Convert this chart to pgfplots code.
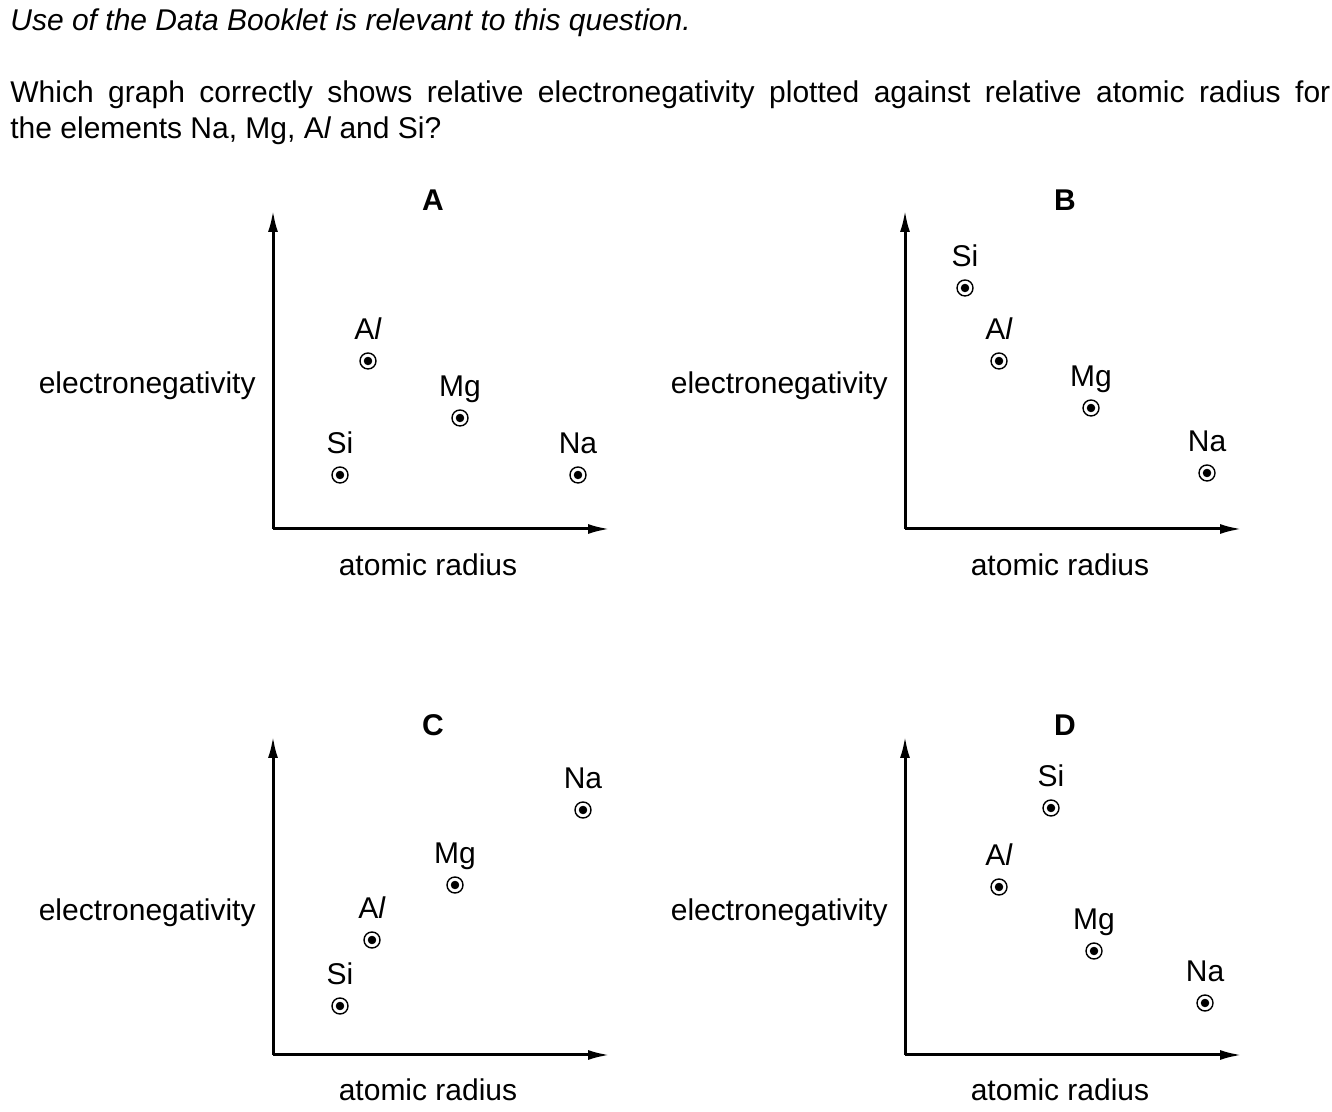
\documentclass[border=0pt]{standalone}
\usepackage{pgfplots}
\pgfplotsset{compat=1.18}
\usetikzlibrary{arrows.meta}
\usepackage{fontspec}
\setmainfont{Liberation Sans}
\newcommand\fs{\fontsize{15}{18}\selectfont}
\pgfplotsset{panel/.style={scale only axis,width=168.5pt,height=159.5pt,
  xmin=0,xmax=337,ymin=0,ymax=319,axis x line=bottom,axis y line=left,ticks=none,
  axis line style={line width=1.5pt,-{Latex[length=11pt,width=5pt]}},clip=false,anchor=origin},
  pts/.style={only marks,mark=o,mark size=4pt,line width=0.7pt,black,
  nodes near coords,point meta=explicit symbolic,
  nodes near coords style={anchor=base,yshift=10.5pt,inner sep=0pt,font=\fs,text=black}},
  dots/.style={only marks,mark=*,mark size=1.9pt,black}}
\begin{document}
\begin{tikzpicture}[x=1pt,y=1pt]
\useasboundingbox (0,0) rectangle (666,556);
\node[anchor=north west,inner sep=0pt,text width=660pt,align=justify,font=\fs] at (5,552)
 {\textit{Use of the Data Booklet is relevant to this question.}\par\vspace{18pt}
 Which graph correctly shows relative electronegativity plotted against relative atomic radius for\linebreak the elements Na, Mg, A\textit{l} and Si?\par};
\begin{axis}[panel,at={(136.5pt,291.5pt)}]
\addplot[pts] coordinates {(95,168)[{A\textit{l}}] (187,111)[Mg] (67,54)[Si] (305,54)[Na]};
\addplot[dots] coordinates {(95,168) (187,111) (67,54) (305,54)};
\end{axis}
\begin{axis}[panel,at={(452.5pt,291.5pt)}]
\addplot[pts] coordinates {(60,241)[Si] (94,168)[{A\textit{l}}] (186,121)[Mg] (302,56)[Na]};
\addplot[dots] coordinates {(60,241) (94,168) (186,121) (302,56)};
\end{axis}
\begin{axis}[panel,at={(136.5pt,28.5pt)}]
\addplot[pts] coordinates {(310,245)[Na] (182,170)[Mg] (99,115)[{A\textit{l}}] (67,49)[Si]};
\addplot[dots] coordinates {(310,245) (182,170) (99,115) (67,49)};
\end{axis}
\begin{axis}[panel,at={(452.5pt,28.5pt)}]
\addplot[pts] coordinates {(146,247)[Si] (94,168)[{A\textit{l}}] (189,104)[Mg] (300,52)[Na]};
\addplot[dots] coordinates {(146,247) (94,168) (189,104) (300,52)};
\end{axis}
\foreach \x/\y/\t in {216.5/456/A,532.5/456/B,216.5/193.5/C,532.5/193.5/D}
  \node[font=\fs\bfseries] at (\x,\y) {\t};
\foreach \x/\y in {128/363,444/363,128/99.5,444/99.5}
  \node[font=\fs,anchor=east,inner sep=0pt] at (\x,\y) {electronegativity};
\foreach \x/\y in {214/273.5,530/273.5,214/11,530/11}
  \node[font=\fs] at (\x,\y) {atomic radius};
\end{tikzpicture}
\end{document}
